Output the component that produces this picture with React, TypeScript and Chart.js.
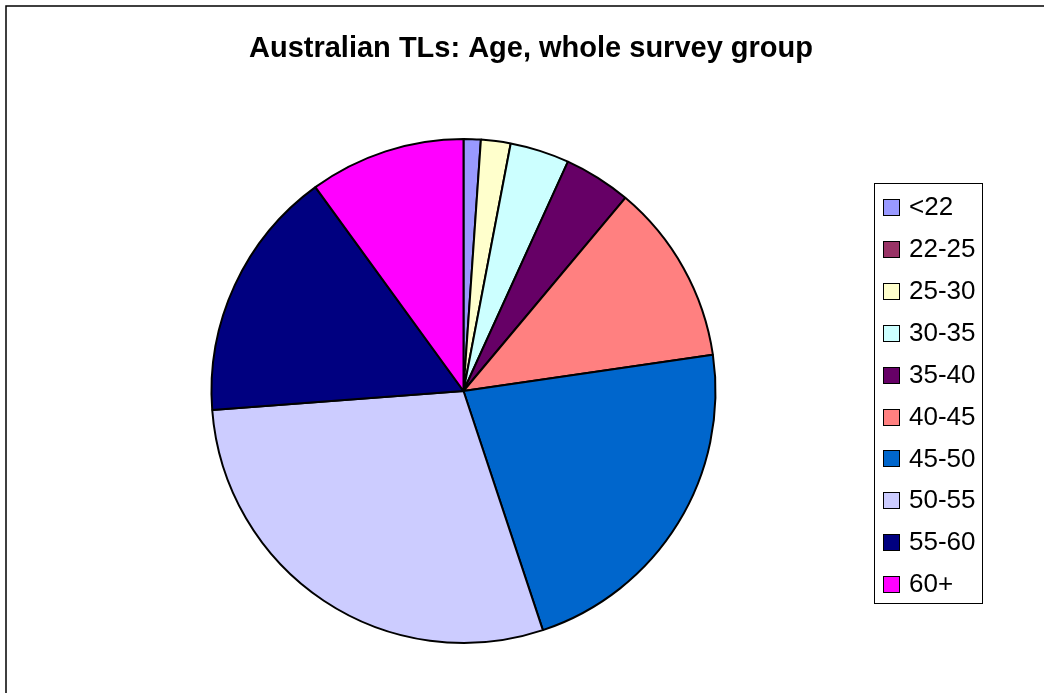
import React, { useEffect, useRef } from "react";
import { Chart, registerables } from "chart.js";

Chart.register(...registerables);

// Age bands and share of respondents (%)
const ageBands = ["<22", "22-25", "25-30", "30-35", "35-40", "40-45", "45-50", "50-55", "55-60", "60+"];
const sharePercent = [1.1, 0, 1.9, 3.8, 4.3, 11.6, 22.2, 28.9, 16.2, 10.0];
const bandColors = [
  "#9999FF",
  "#993366",
  "#FFFFCC",
  "#CCFFFF",
  "#660066",
  "#FF8080",
  "#0066CC",
  "#CCCCFF",
  "#000080",
  "#FF00FF",
];
const chartTitle = "Australian TLs: Age, whole survey group";

const FONT = "'Liberation Sans', Arial, Helvetica, sans-serif";

// Draws the outer frame, the title and the boxed legend on the canvas.
const decorPlugin = {
  id: "decor",
  beforeDraw(chart: any) {
    const ctx = chart.ctx;
    ctx.save();
    ctx.fillStyle = "#ffffff";
    ctx.fillRect(0, 0, chart.width, chart.height);
    ctx.strokeStyle = "#000000";
    ctx.lineWidth = 1.5;
    ctx.beginPath();
    ctx.moveTo(6, chart.height + 2);
    ctx.lineTo(6, 6);
    ctx.lineTo(chart.width + 2, 6);
    ctx.stroke();
    ctx.restore();
  },
  afterDraw(chart: any) {
    const ctx = chart.ctx;
    ctx.save();
    // title
    ctx.fillStyle = "#000000";
    ctx.font = `bold 29px ${FONT}`;
    ctx.textAlign = "center";
    ctx.textBaseline = "middle";
    ctx.fillText(chartTitle, 531, 49);

    // legend box
    const boxX = 874.5;
    const boxY = 183.5;
    const boxW = 108;
    const boxH = 420;
    ctx.lineWidth = 1;
    ctx.strokeStyle = "#000000";
    ctx.strokeRect(boxX, boxY, boxW, boxH);

    const labels = chart.data.labels as string[];
    const colors = chart.data.datasets[0].backgroundColor as string[];
    const firstY = 207;
    const step = 41.9;
    ctx.font = `26px ${FONT}`;
    ctx.textAlign = "left";
    labels.forEach((lab, i) => {
      const cy = firstY + i * step;
      ctx.fillStyle = colors[i];
      ctx.fillRect(883.5, Math.round(cy - 8) + 0.5, 16, 16);
      ctx.strokeStyle = "#000000";
      ctx.lineWidth = 1;
      ctx.strokeRect(883.5, Math.round(cy - 8) + 0.5, 16, 16);
      ctx.fillStyle = "#000000";
      ctx.fillText(lab, 909, cy + 1);
    });
    ctx.restore();
  },
};

export default function App() {
  const canvasRef = useRef<HTMLCanvasElement | null>(null);

  useEffect(() => {
    if (!canvasRef.current) return;
    const chart = new Chart(canvasRef.current, {
      type: "pie",
      data: {
        labels: ageBands,
        datasets: [
          {
            data: sharePercent,
            backgroundColor: bandColors,
            borderColor: "#000000",
            borderWidth: 2,
          },
        ],
      },
      options: {
        animation: false,
        responsive: false,
        maintainAspectRatio: false,
        layout: {
          padding: { top: 138, bottom: 49, left: 210.5, right: 327.5 },
        },
        plugins: {
          legend: { display: false },
          title: { display: false },
          tooltip: { enabled: false },
        },
      },
      plugins: [decorPlugin],
    });
    return () => chart.destroy();
  }, []);

  return (
    <div style={{ position: "fixed", left: 0, top: 0, width: 1044, height: 693, background: "#fff" }}>
      <canvas ref={canvasRef} width={1044} height={693} style={{ display: "block" }} />
    </div>
  );
}
